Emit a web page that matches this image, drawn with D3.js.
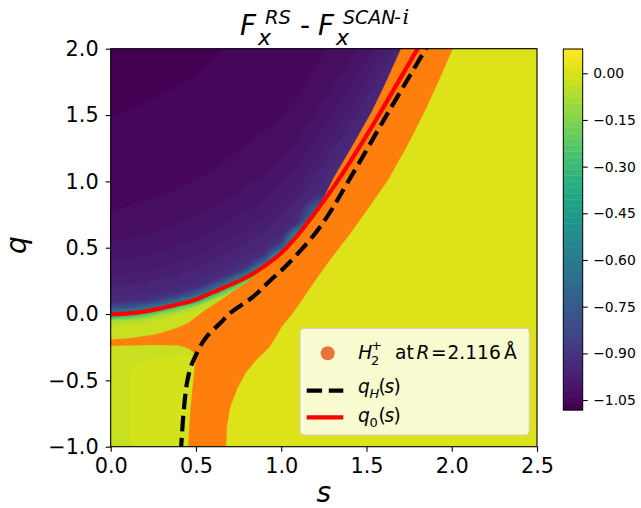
<!DOCTYPE html>
<html><head><meta charset="utf-8"><title>Fx RS - Fx SCAN-i</title>
<script src="https://cdn.jsdelivr.net/npm/d3@7"></script>
<style>html,body{margin:0;padding:0;background:#fff}</style>
</head><body>
<svg id="chart" width="641" height="508" xmlns="http://www.w3.org/2000/svg"></svg>
<script>
// ---------------- data ----------------
const sGrid = [0,0.1,0.2,0.3,0.4,0.5,0.6,0.7,0.8,0.9,1.0,1.1,1.2,1.3,1.4,1.5,1.6,1.7,1.8,1.9,2.0,2.1,2.2,2.3,2.4,2.5];
const qGrid = [2.0,1.9,1.8,1.7,1.6,1.5,1.4,1.3,1.2,1.1,1.0,0.9,0.8,0.7,0.6,0.55,0.5,0.45,0.4,0.35,0.3,0.25,0.2,0.15,0.1,0.05,0.0,-0.05,-0.1,-0.2,-0.3,-0.4,-0.5,-0.6,-0.7,-0.8,-0.9,-1.0];
// F_x^RS - F_x^SCAN-i sampled on (sGrid x qGrid); one row per q value (top row q = 2.0)
const fieldRows = [
 [-1.082,-1.080,-1.076,-1.074,-1.070,-1.068,-1.065,-1.062,-1.059,-1.058,-1.055,-1.052,-1.047,-1.042,-1.032,-1.013,-0.990,-0.951,-0.900,0.01,0.01,0.01,0.01,0.01,0.01,0.01],
 [-1.077,-1.076,-1.072,-1.070,-1.067,-1.065,-1.062,-1.060,-1.058,-1.055,-1.053,-1.050,-1.045,-1.037,-1.024,-1.004,-0.973,-0.940,-0.500,0.01,0.01,0.01,0.01,0.01,0.01,0.01],
 [-1.073,-1.071,-1.069,-1.067,-1.065,-1.063,-1.060,-1.058,-1.055,-1.053,-1.051,-1.047,-1.042,-1.031,-1.015,-0.992,-0.956,-0.900,0.01,0.01,0.01,0.01,0.01,0.01,0.01,0.01],
 [-1.069,-1.068,-1.066,-1.064,-1.062,-1.060,-1.058,-1.056,-1.053,-1.052,-1.049,-1.045,-1.037,-1.023,-1.005,-0.977,-0.950,-0.500,0.01,0.01,0.01,0.01,0.01,0.01,0.01,0.01],
 [-1.066,-1.065,-1.063,-1.061,-1.059,-1.058,-1.056,-1.054,-1.052,-1.049,-1.047,-1.042,-1.031,-1.014,-0.994,-0.960,-0.940,0.01,0.01,0.01,0.01,0.01,0.01,0.01,0.01,0.01],
 [-1.063,-1.062,-1.060,-1.059,-1.057,-1.056,-1.053,-1.052,-1.049,-1.047,-1.044,-1.037,-1.023,-1.004,-0.979,-0.950,-0.900,0.01,0.01,0.01,0.01,0.01,0.01,0.01,0.01,0.01],
 [-1.060,-1.059,-1.058,-1.056,-1.055,-1.053,-1.051,-1.049,-1.047,-1.044,-1.040,-1.030,-1.014,-0.992,-0.962,-0.940,-0.500,0.01,0.01,0.01,0.01,0.01,0.01,0.01,0.01,0.01],
 [-1.058,-1.057,-1.055,-1.054,-1.053,-1.051,-1.049,-1.047,-1.044,-1.041,-1.035,-1.022,-1.004,-0.977,-0.950,-0.900,0.01,0.01,0.01,0.01,0.01,0.01,0.01,0.01,0.01,0.01],
 [-1.055,-1.054,-1.053,-1.052,-1.050,-1.049,-1.046,-1.044,-1.040,-1.036,-1.027,-1.012,-0.991,-0.959,-0.940,-0.500,0.01,0.01,0.01,0.01,0.01,0.01,0.01,0.01,0.01,0.01],
 [-1.053,-1.052,-1.051,-1.049,-1.048,-1.046,-1.044,-1.040,-1.036,-1.028,-1.018,-1.002,-0.976,-0.950,-0.900,0.01,0.01,0.01,0.01,0.01,0.01,0.01,0.01,0.01,0.01,0.01],
 [-1.050,-1.049,-1.048,-1.047,-1.045,-1.043,-1.039,-1.035,-1.027,-1.019,-1.007,-0.989,-0.956,-0.930,-0.500,0.01,0.01,0.01,0.01,0.01,0.01,0.01,0.01,0.01,0.01,0.01],
 [-1.047,-1.046,-1.045,-1.044,-1.041,-1.038,-1.032,-1.026,-1.017,-1.008,-0.996,-0.971,-0.944,-0.900,0.01,0.01,0.01,0.01,0.01,0.01,0.01,0.01,0.01,0.01,0.01,0.01],
 [-1.044,-1.043,-1.041,-1.038,-1.035,-1.030,-1.023,-1.016,-1.007,-0.997,-0.980,-0.951,-0.725,-0.500,0.01,0.01,0.01,0.01,0.01,0.01,0.01,0.01,0.01,0.01,0.01,0.01],
 [-1.038,-1.037,-1.034,-1.030,-1.025,-1.020,-1.012,-1.004,-0.995,-0.981,-0.961,-0.934,-0.600,0.01,0.01,0.01,0.01,0.01,0.01,0.01,0.01,0.01,0.01,0.01,0.01,0.01],
 [-1.029,-1.027,-1.024,-1.020,-1.015,-1.009,-1.001,-0.991,-0.978,-0.962,-0.947,-0.450,-0.050,0.01,0.01,0.01,0.01,0.01,0.01,0.01,0.01,0.01,0.01,0.01,0.01,0.01],
 [-1.024,-1.022,-1.018,-1.014,-1.009,-1.003,-0.993,-0.982,-0.968,-0.950,-0.925,-0.300,0.01,0.01,0.01,0.01,0.01,0.01,0.01,0.01,0.01,0.01,0.01,0.01,0.01,0.01],
 [-1.018,-1.016,-1.012,-1.008,-1.003,-0.996,-0.985,-0.972,-0.958,-0.947,-0.760,-0.050,0.01,0.01,0.01,0.01,0.01,0.01,0.01,0.01,0.01,0.01,0.01,0.01,0.01,0.01],
 [-1.012,-1.010,-1.006,-1.001,-0.995,-0.988,-0.975,-0.962,-0.946,-0.925,-0.300,0.01,0.01,0.01,0.01,0.01,0.01,0.01,0.01,0.01,0.01,0.01,0.01,0.01,0.01,0.01],
 [-1.005,-1.003,-0.999,-0.993,-0.986,-0.978,-0.965,-0.950,-0.941,-0.760,-0.050,0.01,0.01,0.01,0.01,0.01,0.01,0.01,0.01,0.01,0.01,0.01,0.01,0.01,0.01,0.01],
 [-0.997,-0.995,-0.991,-0.984,-0.976,-0.967,-0.952,-0.944,-0.885,-0.300,0.01,0.01,0.01,0.01,0.01,0.01,0.01,0.01,0.01,0.01,0.01,0.01,0.01,0.01,0.01,0.01],
 [-0.988,-0.985,-0.980,-0.973,-0.965,-0.955,-0.946,-0.910,-0.620,-0.050,0.01,0.01,0.01,0.01,0.01,0.01,0.01,0.01,0.01,0.01,0.01,0.01,0.01,0.01,0.01,0.01],
 [-0.977,-0.974,-0.969,-0.962,-0.957,-0.947,-0.918,-0.690,-0.170,0.01,0.01,0.01,0.01,0.01,0.01,0.01,0.01,0.01,0.01,0.01,0.01,0.01,0.01,0.01,0.01,0.01],
 [-0.964,-0.962,-0.956,-0.951,-0.943,-0.925,-0.725,-0.260,-0.050,0.01,0.01,0.01,0.01,0.01,0.01,0.01,0.01,0.01,0.01,0.01,0.01,0.01,0.01,0.01,0.01,0.01],
 [-0.950,-0.949,-0.944,-0.936,-0.900,-0.760,-0.320,-0.042,-0.030,0.01,0.01,0.01,0.01,0.01,0.01,0.01,0.01,0.01,0.01,0.01,0.01,0.01,0.01,0.01,0.01,0.01],
 [-0.934,-0.930,-0.910,-0.830,-0.655,-0.380,-0.047,-0.030,0.01,0.01,0.01,0.01,0.01,0.01,0.01,0.01,0.01,0.01,0.01,0.01,0.01,0.01,0.01,0.01,0.01,0.01],
 [-0.810,-0.785,-0.690,-0.530,-0.210,-0.050,-0.030,-0.010,0.01,0.01,0.01,0.01,0.01,0.01,0.01,0.01,0.01,0.01,0.01,0.01,0.01,0.01,0.01,0.01,0.01,0.01],
 [-0.500,-0.440,-0.260,-0.090,-0.038,-0.030,-0.030,0.01,0.01,0.01,0.01,0.01,0.01,0.01,0.01,0.01,0.01,0.01,0.01,0.01,0.01,0.01,0.01,0.01,0.01,0.01],
 [-0.070,-0.060,-0.042,-0.031,-0.030,-0.030,-0.010,0.01,0.01,0.01,0.01,0.01,0.01,0.01,0.01,0.01,0.01,0.01,0.01,0.01,0.01,0.01,0.01,0.01,0.01,0.01],
 [-0.035,-0.030,-0.030,-0.030,-0.030,-0.030,-0.010,0.01,0.01,0.01,0.01,0.01,0.01,0.01,0.01,0.01,0.01,0.01,0.01,0.01,0.01,0.01,0.01,0.01,0.01,0.01],
 [-0.035,-0.030,-0.030,-0.030,-0.030,-0.025,-0.025,0.01,0.01,0.01,0.01,0.01,0.01,0.01,0.01,0.01,0.01,0.01,0.01,0.01,0.01,0.01,0.01,0.01,0.01,0.01],
 [-0.035,-0.028,-0.025,-0.022,-0.020,-0.020,-0.015,0.01,0.01,0.01,0.01,0.01,0.01,0.01,0.01,0.01,0.01,0.01,0.01,0.01,0.01,0.01,0.01,0.01,0.01,0.01],
 [-0.035,-0.020,-0.010,-0.010,-0.010,-0.010,-0.010,0.01,0.01,0.01,0.01,0.01,0.01,0.01,0.01,0.01,0.01,0.01,0.01,0.01,0.01,0.01,0.01,0.01,0.01,0.01],
 [-0.035,-0.020,-0.010,-0.010,-0.010,-0.010,-0.010,0.01,0.01,0.01,0.01,0.01,0.01,0.01,0.01,0.01,0.01,0.01,0.01,0.01,0.01,0.01,0.01,0.01,0.01,0.01],
 [-0.035,-0.020,-0.010,-0.010,-0.010,-0.010,-0.010,0.01,0.01,0.01,0.01,0.01,0.01,0.01,0.01,0.01,0.01,0.01,0.01,0.01,0.01,0.01,0.01,0.01,0.01,0.01],
 [-0.035,-0.020,-0.010,-0.010,-0.010,-0.010,-0.010,0.01,0.01,0.01,0.01,0.01,0.01,0.01,0.01,0.01,0.01,0.01,0.01,0.01,0.01,0.01,0.01,0.01,0.01,0.01],
 [-0.035,-0.020,-0.010,-0.010,-0.010,-0.010,-0.010,0.01,0.01,0.01,0.01,0.01,0.01,0.01,0.01,0.01,0.01,0.01,0.01,0.01,0.01,0.01,0.01,0.01,0.01,0.01],
 [-0.035,-0.020,-0.010,-0.010,-0.010,-0.010,-0.010,0.01,0.01,0.01,0.01,0.01,0.01,0.01,0.01,0.01,0.01,0.01,0.01,0.01,0.01,0.01,0.01,0.01,0.01,0.01],
 [-0.035,-0.020,-0.010,-0.010,-0.010,-0.010,-0.010,0.01,0.01,0.01,0.01,0.01,0.01,0.01,0.01,0.01,0.01,0.01,0.01,0.01,0.01,0.01,0.01,0.01,0.01,0.01]
];
// H2+ (R = 2.116 A) point-cloud region, outline in (s, q)
const cloudS = [1.71,2.012,1.92,1.83,1.73,1.62,1.50,1.40,1.28,1.17,1.08,1.00,0.93,0.85,0.79,0.74,0.70,0.68,0.675,
  0.455,0.462,0.47,0.48,0.49,0.497,0.494,0.487,0.465,0.44,0.40,0.26,0.10,-0.02,
  -0.02,0.10,0.26,0.38,0.456,0.55,0.64,0.72,0.80,0.86,0.90,1.00,1.10,1.13,1.22,1.31,1.42,1.534,1.62];
const cloudQ = [2.02,2.02,1.75,1.5,1.25,1.0,0.78,0.60,0.40,0.20,0.03,-0.10,-0.25,-0.35,-0.444,-0.565,-0.70,-0.85,-1.02,
  -1.02,-0.85,-0.70,-0.57,-0.45,-0.36,-0.31,-0.29,-0.265,-0.25,-0.236,-0.232,-0.235,-0.239,
  -0.194,-0.186,-0.156,-0.11,-0.068,0.025,0.10,0.17,0.24,0.305,0.355,0.455,0.595,0.63,0.80,1.03,1.27,1.53,1.76];
// q_0(s) (red) and q_H(s) (black dashed)
const q0S = [0,0.1,0.2,0.3,0.4,0.5,0.6,0.7,0.8,0.9,1.0,1.1,1.2,1.3,1.4,1.5,1.6,1.7,1.8,1.85];
const q0Q = [0,0.005,0.02,0.045,0.075,0.11,0.165,0.22,0.28,0.36,0.46,0.60,0.765,0.945,1.14,1.345,1.56,1.78,2.0,2.11];
const qHS = [0.411,0.427,0.45,0.475,0.496,0.525,0.564,0.643,0.701,0.838,0.937,1.035,1.23,1.407,1.632,1.848,1.87];
const qHQ = [-1.05,-0.75,-0.5,-0.38,-0.32,-0.244,-0.168,-0.068,0.008,0.133,0.255,0.371,0.66,1.03,1.53,2.0,2.05];
// ticks
const xTicks = [0,0.5,1.0,1.5,2.0,2.5];
const yTicks = [-1.0,-0.5,0.0,0.5,1.0,1.5,2.0];
const cbTicks = [0.00,-0.15,-0.30,-0.45,-0.60,-0.75,-0.90,-1.05];
const valueRange = [-1.082, 0.078];
const nLevels = 60;

// ---------------- drawing ----------------
const svg = d3.select("#chart");
const FONT = "'DejaVu Sans', sans-serif";
const plot = {l:110.7, r:537, t:48.7, b:446.7};
const x = d3.scaleLinear().domain([0,2.5]).range([plot.l, plot.r]);
const y = d3.scaleLinear().domain([-1,2]).range([plot.b, plot.t]);
const thresholds = d3.range(nLevels+1).map(k => valueRange[0] + k*(valueRange[1]-valueRange[0])/nLevels);
const layerColor = k => d3.interpolateViridis(k/(nLevels-1));

svg.append("rect").attr("width",641).attr("height",508).attr("fill","#fff");
const defs = svg.append("defs");
defs.append("clipPath").attr("id","pclip").append("rect")
  .attr("x",plot.l).attr("y",plot.t).attr("width",plot.r-plot.l).attr("height",plot.b-plot.t);

const g = svg.append("g").attr("clip-path","url(#pclip)");
g.append("rect").attr("x",plot.l).attr("y",plot.t).attr("width",plot.r-plot.l).attr("height",plot.b-plot.t)
  .attr("fill",layerColor(0));

// filled contours (contourf-like)
const nx = sGrid.length, ny = qGrid.length;
const okGrid = fieldRows.length === ny && fieldRows.every(r => r.length === nx);
if (!okGrid) svg.append("text").attr("x",10).attr("y",20).attr("fill","red").text("grid size mismatch");
const values = fieldRows.flat();
const contours = d3.contours().size([nx, ny]).thresholds(thresholds.slice(0,nLevels))(values);
const sOfX = d3.scaleLinear().domain(sGrid.map((_,i)=>i+0.5)).range(sGrid);
const qOfY = d3.scaleLinear().domain(qGrid.map((_,j)=>j+0.5)).range(qGrid);
const ringLine = d3.line().curve(d3.curveBasisClosed);
function contourPath(mp){
  let dstr = "";
  mp.coordinates.forEach(poly => poly.forEach(ring => {
    const pts = ring.slice(0, ring.length-1).map(p => [x(sOfX(p[0])), y(qOfY(p[1]))]);
    if (pts.length > 2) dstr += ringLine(pts);
  }));
  return dstr;
}
g.append("g").selectAll("path").data(contours).join("path")
  .attr("d", contourPath).attr("fill-rule","evenodd")
  .attr("fill", (d,i) => layerColor(i));

// H2+ cloud region
const cloud = cloudS.map((s,i)=>[s, cloudQ[i]]);
g.append("path").attr("d", d3.line().x(d=>x(d[0])).y(d=>y(d[1]))(cloud)+"Z")
  .attr("fill","#ff7f0e").attr("stroke","#ff7f0e").attr("stroke-width",0.5);

// q_H dashed
const qH = qHS.map((s,i)=>[s, qHQ[i]]);
g.append("path").attr("d", d3.line().curve(d3.curveCatmullRom.alpha(0.5)).x(d=>x(d[0])).y(d=>y(d[1]))(qH))
  .attr("fill","none").attr("stroke","#000").attr("stroke-width",4.2).attr("stroke-dasharray","15.4,6.7");
// q_0 red
const q0 = q0S.map((s,i)=>[s, q0Q[i]]);
g.append("path").attr("d", d3.line().curve(d3.curveCatmullRom.alpha(0.5)).x(d=>x(d[0])).y(d=>y(d[1]))(q0))
  .attr("fill","none").attr("stroke","#ff0000").attr("stroke-width",4.2);

// axes
function styleAxis(sel, size){
  sel.select(".domain").remove();
  sel.selectAll(".tick line").attr("stroke","#000").attr("stroke-width",1.1);
  sel.selectAll(".tick text").attr("fill","#000").style("font-family",FONT).style("font-size",size+"px");
}
const xa = svg.append("g").attr("transform",`translate(0,${plot.b})`)
  .call(d3.axisBottom(x).tickValues(xTicks).tickFormat(d3.format(".1f")).tickSize(5).tickPadding(7));
styleAxis(xa, 20.8);
const ya = svg.append("g").attr("transform",`translate(${plot.l},0)`)
  .call(d3.axisLeft(y).tickValues(yTicks).tickFormat(d3.format(".1f")).tickSize(5).tickPadding(7));
styleAxis(ya, 20.8);
svg.append("rect").attr("x",plot.l).attr("y",plot.t).attr("width",plot.r-plot.l).attr("height",plot.b-plot.t)
  .attr("fill","none").attr("stroke","#000").attr("stroke-width",1.1);

// axis labels
svg.append("text").attr("x",(plot.l+plot.r)/2).attr("y",502).attr("text-anchor","middle")
  .style("font-family",FONT).style("font-size","28px").style("font-style","italic").text("s");
svg.append("text").attr("transform","translate(25.5,245) rotate(-90)").attr("text-anchor","middle")
  .style("font-family",FONT).style("font-size","28px").style("font-style","italic").text("q");

// rich text: one <text>, pieces as positioned tspans
function rich(pieces){
  const t = svg.append("text").attr("fill","#000").style("font-family",FONT);
  pieces.forEach(p => {
    t.append("tspan").attr("x",p.x).attr("y",p.y)
      .style("font-size",p.size+"px").style("font-style",p.it ? "italic" : "normal")
      .style("font-family",p.fam || FONT).text(p.t);
  });
  return t;
}
// title
rich([
  {t:"F",x:240,y:35,size:27.8,it:true},
  {t:"RS",x:265,y:24,size:19.5,it:true},
  {t:"x",x:258,y:45,size:22,it:true},
  {t:"-",x:300,y:35,size:27.8},
  {t:"F",x:318,y:35,size:27.8,it:true},
  {t:"SCAN",x:343,y:24,size:19,it:true},
  {t:"-",x:394,y:24,size:19,it:true},
  {t:"i",x:402.5,y:24,size:21,it:true,fam:"'DejaVu Serif', serif"},
  {t:"x",x:336,y:45,size:22,it:true}
]);

// colorbar
const cb = {x:563.3, w:19.4, top:49, bottom:410};
const cbScale = d3.scaleLinear().domain(valueRange).range([cb.bottom, cb.top]);
svg.append("g").selectAll("rect").data(d3.range(nLevels)).join("rect")
  .attr("x",cb.x).attr("width",cb.w)
  .attr("y",k=>cbScale(thresholds[k+1])).attr("height",k=>cbScale(thresholds[k])-cbScale(thresholds[k+1])+0.4)
  .attr("fill",k=>layerColor(k));
svg.append("rect").attr("x",cb.x).attr("y",cb.top).attr("width",cb.w).attr("height",cb.bottom-cb.top)
  .attr("fill","none").attr("stroke","#000").attr("stroke-width",1);
const ca = svg.append("g").attr("transform",`translate(${cb.x+cb.w},0)`)
  .call(d3.axisRight(cbScale).tickValues(cbTicks).tickFormat(d3.format(".2f")).tickSize(5).tickPadding(5.5));
styleAxis(ca, 13.9);

// legend
const lg = svg.append("g");
lg.append("rect").attr("x",300).attr("y",328.3).attr("width",229.3).attr("height",106.7).attr("rx",4)
  .attr("fill","#fff").attr("fill-opacity",0.8).attr("stroke","#cccccc").attr("stroke-width",1);
lg.append("circle").attr("cx",327.7).attr("cy",353.3).attr("r",7).attr("fill","#e8743b");
lg.append("line").attr("x1",306.7).attr("x2",343.3).attr("y1",390.7).attr("y2",390.7)
  .attr("stroke","#000").attr("stroke-width",4.2).attr("stroke-dasharray","15.4,6.7");
lg.append("line").attr("x1",306.7).attr("x2",343.3).attr("y1",417.3).attr("y2",417.3)
  .attr("stroke","#ff0000").attr("stroke-width",4.2);
const LS = 18.6, SS = 13;
rich([
  {t:"H",x:358.3,y:359.3,size:LS,it:true},
  {t:"2",x:371,y:364.5,size:SS},
  {t:"+",x:371,y:350,size:SS},
  {t:"at",x:395,y:359.3,size:LS},
  {t:"R",x:416.5,y:359.3,size:LS,it:true},
  {t:"=",x:431,y:359.3,size:LS},
  {t:"2.116",x:447.5,y:359.3,size:LS},
  {t:"Å",x:504,y:359.3,size:LS}
]);
rich([
  {t:"q",x:358,y:392.5,size:LS,it:true},
  {t:"H",x:369.5,y:397.5,size:SS,it:true},
  {t:"(",x:378.5,y:392.5,size:LS},
  {t:"s",x:384.5,y:392.5,size:LS,it:true},
  {t:")",x:393.5,y:392.5,size:LS}
]);
rich([
  {t:"q",x:358,y:421.5,size:LS,it:true},
  {t:"0",x:369.5,y:426.5,size:SS},
  {t:"(",x:378.5,y:421.5,size:LS},
  {t:"s",x:384.5,y:421.5,size:LS,it:true},
  {t:")",x:393.5,y:421.5,size:LS}
]);
</script>
</body></html>
